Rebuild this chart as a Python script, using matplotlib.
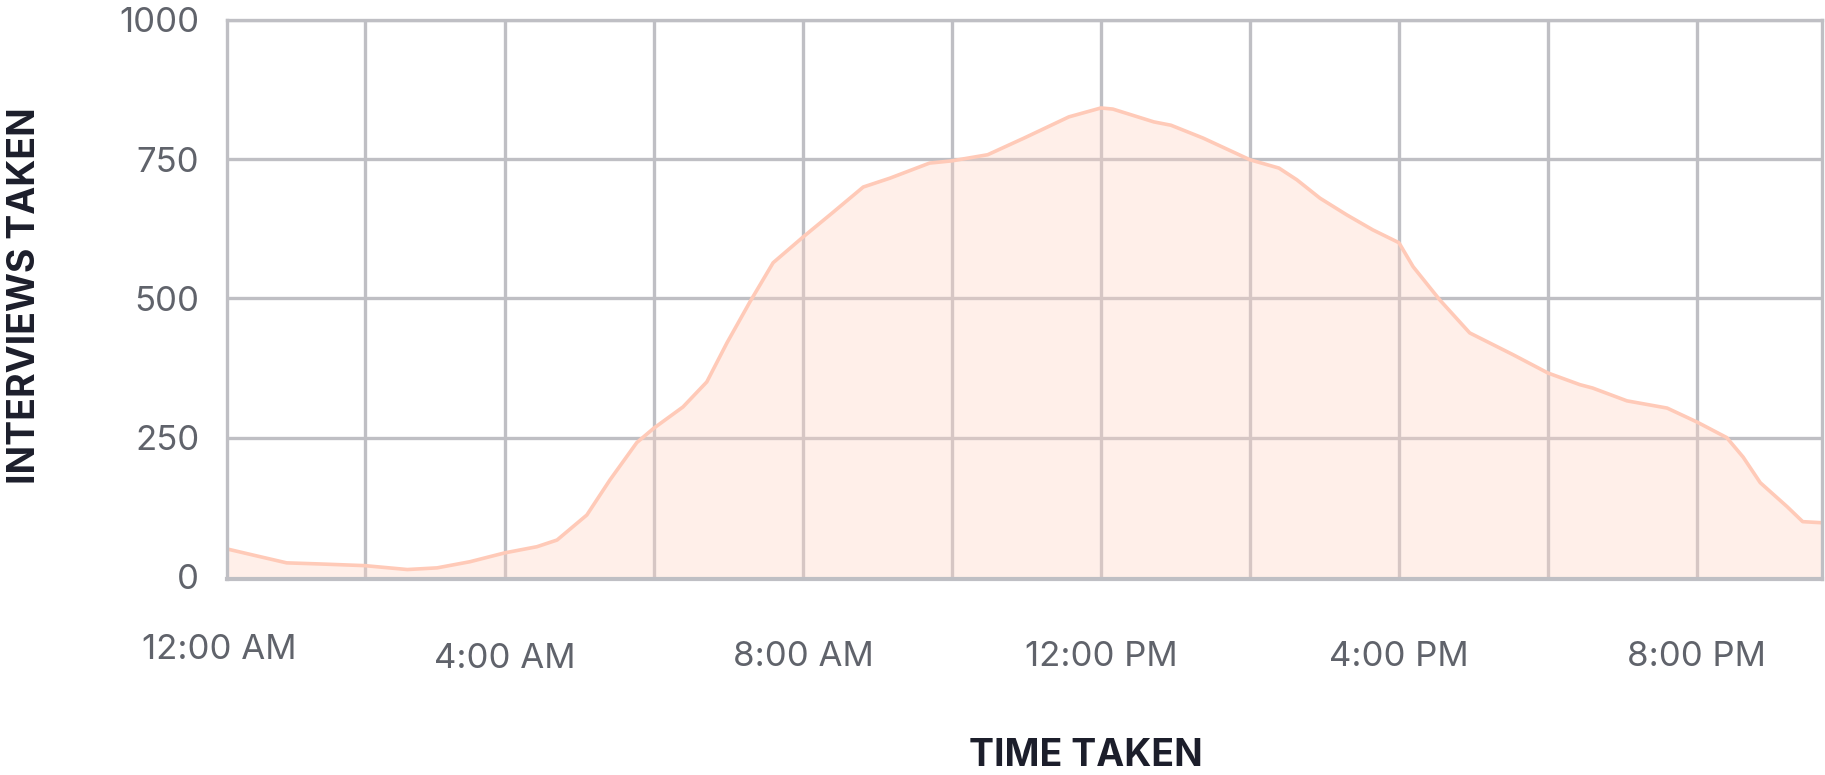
import matplotlib
matplotlib.use("Agg")
import matplotlib.pyplot as plt
from matplotlib.transforms import ScaledTranslation

plt.rcParams['font.family'] = ['Inter', 'DejaVu Sans']

# hours after midnight and interviews taken
horas = [0.27, 0.62, 1.07, 1.52, 2.12, 2.69, 3.09, 3.53, 4.0, 4.43, 4.70, 5.10,
         5.41, 5.77, 6.0, 6.39, 6.71, 6.98, 7.29, 7.60, 8.0, 8.39, 8.81, 9.17,
         9.70, 10.0, 10.48, 10.97, 11.57, 12.0, 12.16, 12.71, 12.94, 13.37, 14.0,
         14.39, 14.63, 14.94, 15.30, 15.65, 16.0, 16.19, 16.55, 16.95, 17.53,
         18.0, 18.43, 18.60, 19.06, 19.60, 20.0, 20.40, 20.62, 20.85, 21.21,
         21.42, 21.68]
entrevistas = [50, 39, 25, 23, 20, 13, 16, 27, 43, 54, 66, 111,
               174, 241, 267, 305, 350, 420, 494, 564, 610, 653, 700, 716,
               743, 747, 758, 788, 826, 842, 840, 817, 811, 788, 749,
               734, 713, 680, 650, 623, 600, 557, 497, 438, 399,
               366, 345, 339, 316, 303, 278, 250, 215, 169, 126,
               99, 97]

rotulos_x = ["12:00 AM", "4:00 AM", "8:00 AM", "12:00 PM", "4:00 PM", "8:00 PM"]
ticks_x = [0.27, 4, 8, 12, 16, 20]
# the first interval of the original axis is a bit narrower, so the 2 AM line sits at 2.12
grade_x = [2.12, 4, 6, 8, 10, 12, 14, 16, 18, 20]
ticks_y = [0, 250, 500, 750, 1000]

cinza = '#bfbfc4'
texto = '#60636b'

fig = plt.figure(figsize=(18.25, 7.75), dpi=100)
ax = fig.add_axes([0.1244, 0.2529, 0.874, 0.7213])

ax.fill_between(horas, entrevistas, 0, color='#ffd3c4', alpha=0.36, zorder=3, linewidth=0)
ax.plot(horas, entrevistas, color='#ffcab8', linewidth=2.6, zorder=4,
        solid_joinstyle='round')

ax.set_xlim(0.27, 21.68)
ax.set_ylim(-4, 1000)

ax.set_xticks(ticks_x)
ax.set_xticklabels(rotulos_x)
ax.set_yticks(ticks_y)
ax.set_yticklabels([str(v) for v in ticks_y])

ax.grid(False)
for x in grade_x:
    ax.axvline(x, color=cinza, linewidth=2.4, zorder=1)
for y in ticks_y[1:]:
    ax.axhline(y, color=cinza, linewidth=2.4, zorder=1)

ax.tick_params(axis='both', which='both', length=0, labelsize=25, labelcolor=texto)
ax.tick_params(axis='x', pad=44)
ax.tick_params(axis='y', pad=20)

# small nudges of the x labels as in the original
desvios = [(-0.08, 0.06), (0, -0.03), (0, -0.01), (0, -0.01), (0, -0.01), (0, -0.01)]
for rot, (dx, dy) in zip(ax.get_xticklabels(), desvios):
    rot.set_transform(rot.get_transform() + ScaledTranslation(dx, dy, fig.dpi_scale_trans))

for lado in ['left', 'right', 'top']:
    ax.spines[lado].set_color(cinza)
    ax.spines[lado].set_linewidth(2.4)
ax.spines['bottom'].set_color(cinza)
ax.spines['bottom'].set_linewidth(3)
for s in ax.spines.values():
    s.set_zorder(5)

fig.text(0.0135, 0.618, "INTERVIEWS TAKEN", rotation=90, ha='center', va='center',
         fontsize=27, fontweight='bold', color='#1c1e2b')
fig.text(0.595, 0.024, "TIME TAKEN", ha='center', va='center',
         fontsize=27, fontweight='bold', color='#1c1e2b')

fig.savefig("out.png", dpi=100)
